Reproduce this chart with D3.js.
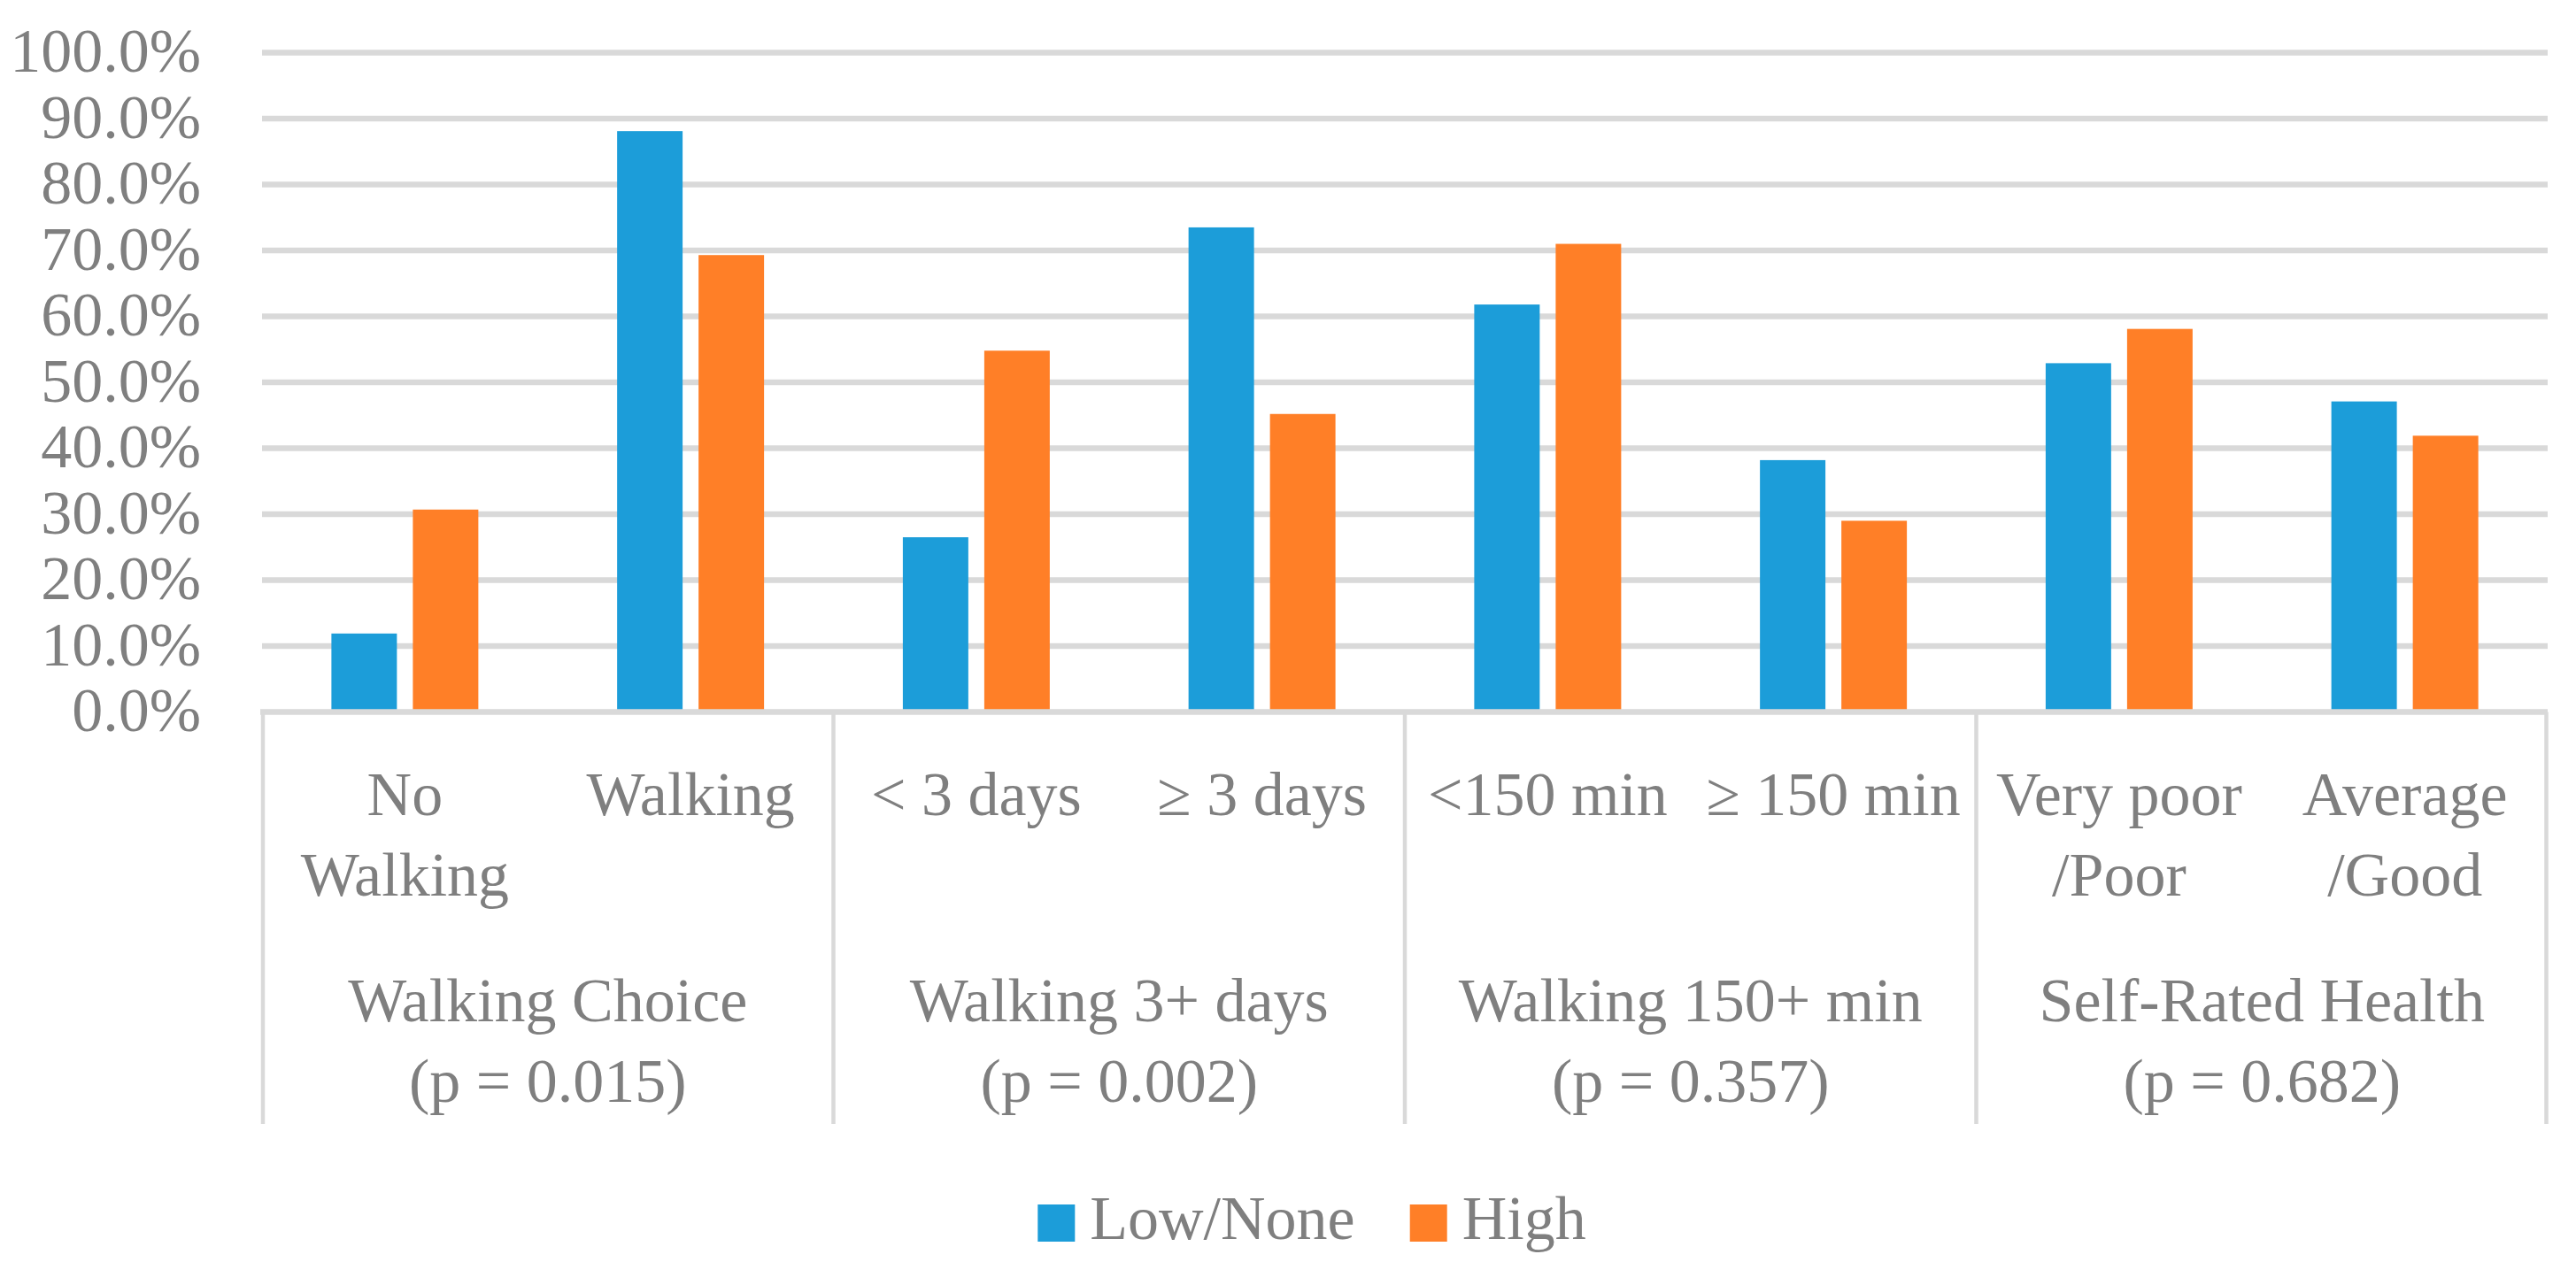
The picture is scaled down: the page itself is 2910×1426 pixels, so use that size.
<!DOCTYPE html>
<html>
<head>
<meta charset="utf-8">
<script src="https://cdn.jsdelivr.net/npm/d3@7"></script>
<style>
  body { margin: 0; background: #fff; }
  text { font-family: "Liberation Serif", "DejaVu Serif", serif; fill: #7f7f7f; }
</style>
</head>
<body>
<svg id="chart" width="2910" height="1426"></svg>
<script>
// data
const series = ["Low/None", "High"];
const colors = ["#1c9dd9", "#ff7f27"];
const categories = ["No Walking", "Walking", "< 3 days", "≥ 3 days", "<150 min", "≥ 150 min", "Very poor /Poor", "Average /Good"];
const catLines = [["No", "Walking"], ["Walking"], ["< 3 days"], ["≥ 3 days"], ["<150 min"], ["≥ 150 min"], ["Very poor", "/Poor"], ["Average", "/Good"]];
const groupLines = [["Walking Choice", "(p = 0.015)"], ["Walking 3+ days", "(p = 0.002)"], ["Walking 150+ min", "(p = 0.357)"], ["Self-Rated Health", "(p = 0.682)"]];
const lowNone = [0.119, 0.881, 0.265, 0.735, 0.618, 0.382, 0.529, 0.471];
const high = [0.307, 0.693, 0.548, 0.452, 0.710, 0.290, 0.581, 0.419];
const yTicks = [0, 0.1, 0.2, 0.3, 0.4, 0.5, 0.6, 0.7, 0.8, 0.9, 1.0];

const svg = d3.select("#chart");
const plotLeft = 296, plotRight = 2878, plotTop = 59.5, plotBottom = 804.5;
const fontSize = 70;
const grid = "#d9d9d9";

const x = d3.scaleBand().domain(categories).range([plotLeft, plotRight]);
const x1 = d3.scaleBand().domain(series).range([0, x.bandwidth()])
  .paddingInner(0.196).paddingOuter(0.852);
const y = d3.scaleLinear().domain([0, 1]).range([plotBottom, plotTop]);

// gridlines
svg.append("g")
  .selectAll("line")
  .data(yTicks.filter(t => t > 0))
  .enter()
  .append("line")
  .attr("x1", plotLeft)
  .attr("x2", plotRight)
  .attr("y1", d => y(d))
  .attr("y2", d => y(d))
  .attr("stroke", grid)
  .attr("stroke-width", 6.5);

// y tick labels
svg.append("g")
  .selectAll("text")
  .data(yTicks)
  .enter()
  .append("text")
  .attr("x", 227)
  .attr("y", d => y(d))
  .attr("dy", "0.31em")
  .attr("text-anchor", "end")
  .attr("font-size", fontSize)
  .text(d3.format(".1%"));

// bars
const rows = categories.map((c, i) => ({ cat: c, vals: [lowNone[i], high[i]] }));
const cg = svg.append("g")
  .selectAll("g")
  .data(rows)
  .enter()
  .append("g")
  .attr("transform", d => `translate(${x(d.cat)},0)`);

cg.selectAll("rect")
  .data(d => d.vals.map((v, j) => ({ s: series[j], v: v, j: j })))
  .enter()
  .append("rect")
  .attr("x", d => x1(d.s))
  .attr("width", x1.bandwidth())
  .attr("y", d => y(d.v))
  .attr("height", d => y(0) - y(d.v))
  .attr("fill", d => colors[d.j]);

// category axis line + group separators
svg.append("line")
  .attr("x1", plotLeft - 2).attr("x2", plotRight)
  .attr("y1", y(0)).attr("y2", y(0))
  .attr("stroke", grid).attr("stroke-width", 6.5);

const sepX = d3.range(0, categories.length + 1, 2).map(i =>
  i < categories.length ? x(categories[i]) : plotRight - 1.5);
svg.append("g")
  .selectAll("line")
  .data(sepX)
  .enter()
  .append("line")
  .attr("x1", d => d === plotLeft ? d + 1 : d)
  .attr("x2", d => d === plotLeft ? d + 1 : d)
  .attr("y1", y(0))
  .attr("y2", 1270)
  .attr("stroke", grid)
  .attr("stroke-width", 4.5);

// category labels
svg.append("g")
  .selectAll("text")
  .data(categories)
  .enter()
  .append("text")
  .attr("x", d => x(d) + x.bandwidth() / 2)
  .attr("y", 921)
  .attr("text-anchor", "middle")
  .attr("font-size", fontSize)
  .each(function (d, i) {
    catLines[i].forEach((line, k) => {
      d3.select(this).append("tspan")
        .attr("x", x(d) + x.bandwidth() / 2)
        .attr("dy", k === 0 ? 0 : 91)
        .text(line);
    });
  });

// group labels
svg.append("g")
  .selectAll("text")
  .data(groupLines)
  .enter()
  .append("text")
  .attr("y", 1154)
  .attr("text-anchor", "middle")
  .attr("font-size", fontSize)
  .each(function (d, i) {
    const cx = x(categories[i * 2]) + x.bandwidth();
    d.forEach((line, k) => {
      d3.select(this).append("tspan")
        .attr("x", cx)
        .attr("dy", k === 0 ? 0 : 91)
        .text(line);
    });
  });

// legend
const legend = svg.append("g");
let lx = 0;
series.forEach((s, i) => {
  const item = legend.append("g").attr("transform", `translate(${lx},0)`);
  item.append("rect")
    .attr("x", 0).attr("y", 1361)
    .attr("width", 42).attr("height", 42)
    .attr("fill", colors[i]);
  const t = item.append("text")
    .attr("x", 59).attr("y", 1400)
    .attr("font-size", fontSize)
    .text(s);
  lx += 59 + t.node().getComputedTextLength() + 62;
});
const legW = lx - 62;
legend.attr("transform", `translate(${1482 - legW / 2},0)`);
</script>
</body>
</html>
